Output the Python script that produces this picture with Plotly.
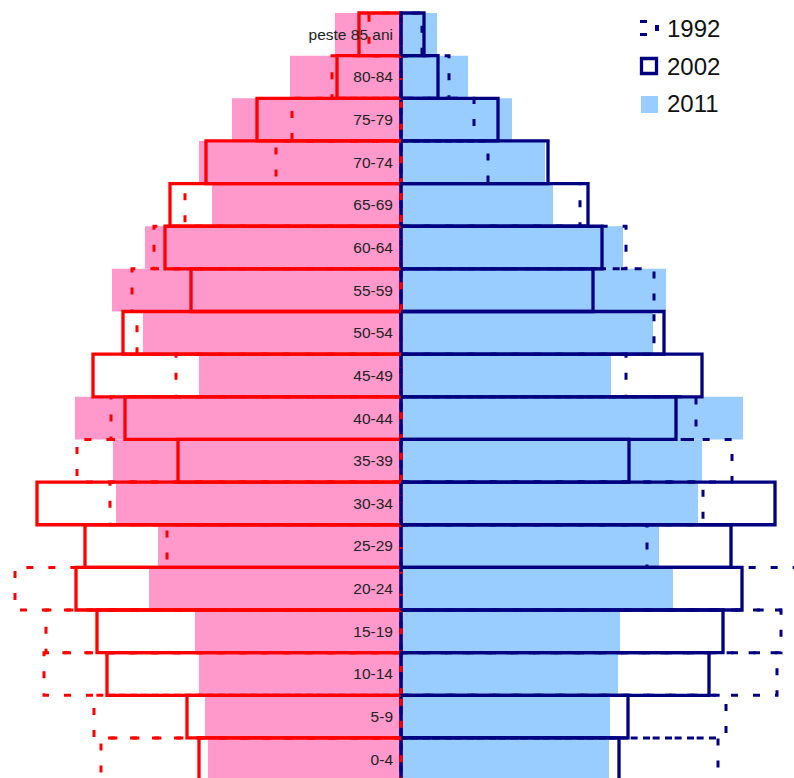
import plotly.graph_objects as go

# Age groups, bottom to top
ages = ["0-4", "5-9", "10-14", "15-19", "20-24", "25-29", "30-34", "35-39",
        "40-44", "45-49", "50-54", "55-59", "60-64", "65-69", "70-74",
        "75-79", "80-84", "peste 85 ani"]

# Left side (red / pink), relative units
left_1992 = [300, 307, 357, 355, 386, 234, 291, 324, 290, 225, 264, 269, 247, 216, 125, 109, 69, 32]
left_2002 = [202, 214, 294, 304, 325, 316, 364, 223, 276, 308, 278, 210, 236, 231, 195, 144, 64, 42]
left_2011 = [193, 196, 202, 206, 252, 243, 285, 288, 326, 202, 258, 289, 256, 189, 202, 169, 111, 66]

# Right side (navy / light blue)
right_1992 = [317, 325, 376, 380, 398, 246, 302, 331, 295, 225, 253, 253, 225, 179, 87, 73, 48, 21]
right_2002 = [218, 227, 308, 322, 341, 330, 374, 228, 275, 301, 263, 192, 201, 187, 147, 97, 37, 23]
right_2011 = [208, 209, 217, 219, 272, 258, 297, 301, 342, 210, 252, 265, 222, 152, 144, 111, 67, 36]

legend_labels = ["1992", "2002", "2011"]

PINK = "#FF99CC"
LBLUE = "#99CCFF"
RED = "#FF0000"
NAVY = "#000080"

idx = list(range(len(ages)))


def outline(vals, sign):
    xs, ys = [], []
    for i, v in enumerate(vals):
        xs += [0, sign * v, sign * v, 0, 0, None]
        ys += [i - 0.5, i - 0.5, i + 0.5, i + 0.5, i - 0.5, None]
    return xs, ys


fig = go.Figure()

# 2011 filled bars
fig.add_trace(go.Bar(y=idx, x=[-v for v in left_2011], orientation="h", width=1,
                     marker=dict(color=PINK, line=dict(width=0)), name="2011"))
fig.add_trace(go.Bar(y=idx, x=right_2011, orientation="h", width=1,
                     marker=dict(color=LBLUE, line=dict(width=0)), name="2011"))

# 1992 dashed outlines
lx, ly = outline(left_1992, -1)
rx, ry = outline(right_1992, 1)
fig.add_trace(go.Scatter(x=lx, y=ly, mode="lines",
                         line=dict(color=RED, width=3, dash="7px,15px"), name="1992"))
fig.add_trace(go.Scatter(x=rx, y=ry, mode="lines",
                         line=dict(color=NAVY, width=3, dash="7px,15px"), name="1992"))

# 2002 solid outlines
fig.add_trace(go.Bar(y=idx, x=[-v for v in left_2002], orientation="h", width=1,
                     marker=dict(color="rgba(0,0,0,0)", line=dict(color=RED, width=3.3)), name="2002"))
fig.add_trace(go.Bar(y=idx, x=right_2002, orientation="h", width=1,
                     marker=dict(color="rgba(0,0,0,0)", line=dict(color=NAVY, width=3.3)), name="2002"))

W, H = 794, 778


def px(x):
    return x / W


def py(y):
    return 1 - y / H


def prect(x0, y0, x1, y1, **kw):
    return dict(type="rect", xref="paper", yref="paper",
                x0=px(x0), x1=px(x1), y0=py(y1), y1=py(y0), **kw)


shapes = [
    # 1992 legend icon (dashed box fragments)
    prect(640, 20, 647, 23, line=dict(width=0), fillcolor=NAVY),
    prect(640, 33, 647, 36, line=dict(width=0), fillcolor=NAVY),
    prect(655, 25, 659, 31, line=dict(width=0), fillcolor=NAVY),
    # 2002 legend icon
    prect(641.5, 58.5, 656.5, 73.5, line=dict(color=NAVY, width=3.3), fillcolor="white"),
    # 2011 legend icon
    prect(641, 96, 658, 113, line=dict(width=0), fillcolor=LBLUE),
]

annotations = []
for lab, yy in zip(legend_labels, [29, 66, 104]):
    annotations.append(dict(text=lab, xref="paper", yref="paper", x=px(665), y=py(yy),
                            xanchor="left", yanchor="middle", showarrow=False,
                            font=dict(size=24, color="#111111", family="Arial, Liberation Sans")))

fig.update_layout(
    width=W, height=H,
    margin=dict(l=0, r=0, t=0, b=0),
    barmode="overlay",
    showlegend=False,
    plot_bgcolor="white", paper_bgcolor="white",
    font=dict(family="Arial, Liberation Sans", color="#222222"),
    shapes=shapes,
    annotations=annotations,
    xaxis=dict(range=[-401, 393], showgrid=False, zeroline=False, showticklabels=False,
               showline=False, ticks="", automargin=False),
    yaxis=dict(range=[-0.439, 17.805], tickvals=idx, ticktext=ages, anchor="free",
               position=401 / W, side="left", showgrid=False, zeroline=False,
               showline=False, ticks="", ticklabelstandoff=8,
               tickfont=dict(size=15.5, color="#222222", family="Arial, Liberation Sans"),
               automargin=False),
)

fig.write_html("out.html",
               config={"displayModeBar": False},
               post_script="document.body.style.margin='0';document.body.style.padding='0';"
                           "document.body.style.overflow='hidden';")
